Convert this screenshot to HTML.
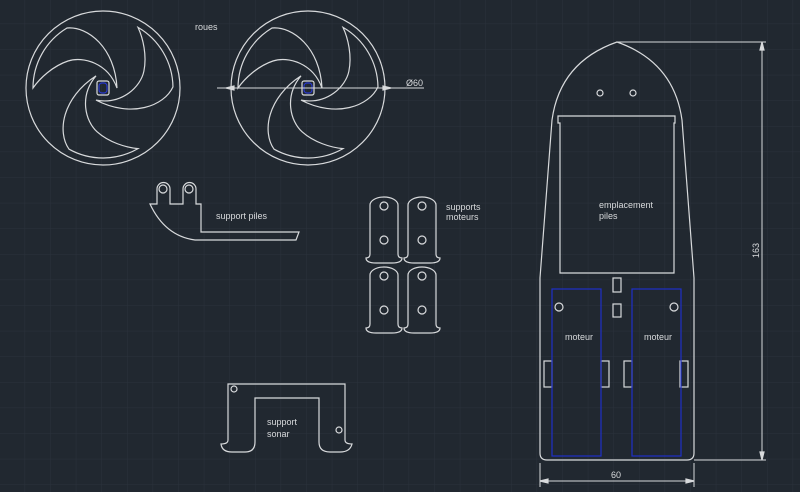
<!DOCTYPE html>
<html><head><meta charset="utf-8"><style>
html,body{margin:0;padding:0;background:#212830;}
svg{display:block}
text{font-family:"Liberation Sans",sans-serif;font-size:9px;fill:#d8dadc}
</style></head><body>
<svg width="800" height="492" viewBox="0 0 800 492" xmlns="http://www.w3.org/2000/svg">
<defs>
<pattern id="g" width="25.6" height="25.6" patternUnits="userSpaceOnUse" x="-1" y="-2">
<path d="M0 0V25.6M0 0H25.6" stroke="#2b323c" stroke-width="1" fill="none"/>
</pattern>
<g id="cut">
<path d="M-70 0 A70 70 0 0 1 -36 -60 C-15 -62 12 -40 14 0 C5 -25 -20 -32 -35 -27 C-50 -22 -63 -10 -70 0 Z"/>
</g>
<g id="wheel">
<circle r="77"/>
<use href="#cut"/>
<use href="#cut" transform="rotate(120)"/>
<use href="#cut" transform="rotate(240)"/>
<rect x="-6" y="-7" width="12" height="14" rx="2"/>
<rect x="-4" y="-5" width="8" height="10" rx="3" stroke="#2838d0"/>
</g>
</defs>
<rect width="800" height="492" fill="#212830"/>
<rect width="800" height="492" fill="url(#g)"/>
<g fill="none" stroke="#d8dadc" stroke-width="1.2">
<use href="#wheel" transform="translate(103,88)"/>
<use href="#wheel" transform="translate(308,88)"/>
<line x1="217" y1="88" x2="424" y2="88" stroke-width="1"/>
<path d="M226 88l8-2v4z M391 88l-8-2v4z" fill="#d8dadc"/>
<path d="M150 204H157V189A6.5 6.5 0 0 1 170 189V204H183V189A6.5 6.5 0 0 1 196 189V204H201V232H299L296 240H195Q165 236 150 204Z"/>
<circle cx="163" cy="189" r="4"/><circle cx="189" cy="189" r="4"/>
<g id="m1"><path d="M370 254V205A14 8 0 0 1 398 205V254Q398 258 402 258Q402 263 392 263H376Q366 263 366 258Q370 258 370 254Z"/>
<circle cx="384" cy="206" r="4"/><circle cx="384" cy="240" r="4"/></g>
<use href="#m1" transform="translate(38,0)"/>
<use href="#m1" transform="translate(0,70)"/>
<use href="#m1" transform="translate(38,70)"/>
<path d="M228 384H345V440Q345 444 352 444Q350 452 340 452H330Q319 452 319 442V398H255V442Q255 452 245 452H232Q222 452 221 444Q228 444 228 440Z"/>
<circle cx="234" cy="389" r="3"/><circle cx="339" cy="430" r="3"/>
<path d="M617 42Q560 62 552 120L540 278V453Q540 460 547 460H687Q694 460 694 453V278L682 120Q674 62 617 42Z"/>
<circle cx="600" cy="93" r="3"/><circle cx="633" cy="93" r="3"/>
<path d="M558 116H675V123H674V273H560V123H558Z"/>
<rect x="613" y="278" width="8" height="14"/><rect x="613" y="304" width="8" height="13"/>
<rect x="544" y="361" width="8" height="26"/><rect x="601" y="361" width="8" height="26"/>
<rect x="624" y="361" width="8" height="26"/><rect x="680" y="361" width="8" height="26"/>
<circle cx="559" cy="307" r="4"/><circle cx="674" cy="307" r="4"/>
<rect x="552" y="289" width="49" height="167" stroke="#1e2fc8"/>
<rect x="632" y="289" width="49" height="167" stroke="#1e2fc8"/>
<g stroke-width="1">
<path d="M540 463V487M694 463V487M540 481H694"/>
<path d="M617 42H766M694 460H766M762 42V460"/>
</g>
<path d="M540 481l8-2v4zM694 481l-8-2v4zM762 42l-2 8h4zM762 460l-2-8h4z" fill="#d8dadc"/>
</g>
<text x="195" y="30">roues</text>
<text x="406" y="86">Ø60</text>
<text x="216" y="219">support piles</text>
<text x="446" y="210">supports</text>
<text x="446" y="220">moteurs</text>
<text x="267" y="425">support</text>
<text x="267" y="437">sonar</text>
<text x="599" y="208">emplacement</text>
<text x="599" y="219">piles</text>
<text x="565" y="340">moteur</text>
<text x="644" y="340">moteur</text>
<text x="611" y="478">60</text>
<text transform="translate(759,258) rotate(-90)">163</text>
</svg>
</body></html>
